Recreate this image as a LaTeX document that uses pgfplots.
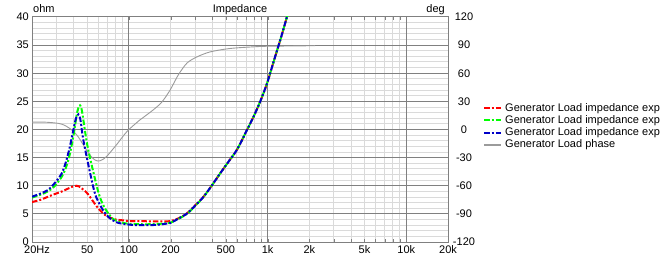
\documentclass[border=0pt]{standalone}
\usepackage{fontspec}
\setmainfont{Liberation Sans}
\usepackage{pgfplots}
\pgfplotsset{compat=1.18}
\definecolor{majgrid}{RGB}{128,128,128}
\definecolor{mingrid}{RGB}{218,218,218}
\definecolor{phasegray}{RGB}{155,155,155}
\definecolor{zred}{RGB}{255,0,0}
\definecolor{zgreen}{RGB}{0,255,0}
\definecolor{zblue}{RGB}{0,0,200}

\pgfplotstableread{
f z
20 7.1
23 7.5
26.1 8.05
29 8.5
32.6 8.95
35 9.3
38 9.7
40 9.93
41.8 10.0
43.5 9.9
45 9.65
48 9.1
50.7 8.5
53.5 7.7
56.7 6.8
60 6.0
65 5.1
70 4.55
79 4.04
90 3.85
100 3.74
120 3.7
150 3.68
180 3.68
200 3.72
227 4.2
262 5.1
300 6.5
345 8.06
400 10.2
455 12.2
525 14.35
601 16.4
700 19.6
793 22.3
885 25.0
991 28.2
1100 31.9
1234 35.9
1310 38.1
1385 40.2
}\redtab

\pgfplotstableread{
f z
20 7.9
23 8.4
26.1 9.0
29 9.9
32.6 11.5
35 13.1
37.4 15.5
40 19.2
42 22.6
43.3 23.9
44.4 24.3
45.4 23.8
46.4 22.5
49.3 18.2
52 15.3
55.2 12.6
59.6 9.25
63 7.4
67 6.0
72 4.9
76 4.2
83 3.65
95 3.3
110 3.2
130 3.15
160 3.2
190 3.35
200 3.45
227 4.1
262 5.0
300 6.4
345 8.0
400 10.2
455 12.2
525 14.35
601 16.4
700 19.6
793 22.3
885 25.0
991 28.2
1100 31.9
1234 35.9
1310 38.1
1385 40.2
}\greentab

\pgfplotstableread{
f z
20 8.06
23 8.6
26.1 9.25
29 10.4
32.6 12.1
35 14.1
37.4 16.8
39.5 19.6
41.3 21.8
42.3 22.5
43.2 22.7
44.1 22.3
45 21.3
46.7 18.4
50.7 14.0
55.2 9.85
58 8.0
61.9 6.6
66 5.4
70.8 4.5
76 3.9
83 3.43
95 3.15
110 3.02
130 3.0
160 3.05
190 3.3
200 3.4
227 4.15
262 5.05
300 6.45
345 8.03
400 10.2
455 12.2
525 14.35
601 16.4
700 19.6
793 22.3
885 25.0
991 28.2
1100 31.9
1234 35.9
1310 38.1
1385 40.2
}\bluetab

\pgfplotstableread{
f deg
20 7.8
25 7.8
30.8 6.6
34 4.8
37.4 1.2
40 -2.4
43.1 -7.8
46 -14.4
49.3 -21.6
53 -28.2
56.7 -32.4
60 -33.6
62 -33.3
66 -31.2
70.8 -27
76 -21.6
83 -14.7
90 -7.8
99 -0.6
116 8.4
120 10.2
150 21
173 29.4
198 42
227 58.2
262 70.8
309 77.4
386 82.8
535 86.4
793 88.2
1000 88.8
1500 89.1
2200 89.4
}\phasetab

\tikzset{zline/.style={line width=2bp, dash pattern=on 5.5bp off 2bp on 2bp off 2bp}}

\begin{document}
\begin{tikzpicture}[font=\fontsize{11bp}{13bp}\selectfont]
% grid and left/bottom axis
\begin{axis}[
  scale only axis, width=416bp, height=225bp,
  at={(0,0)}, anchor=south west,
  xmode=log, xmin=20, xmax=20000,
  ymin=0, ymax=40,
  major tick length=0pt, minor tick length=0pt,
  axis line style={majgrid, line width=1bp},
  xtick={20,50,100,200,500,1000,2000,5000,10000,20000},
  xticklabels={\hspace*{10bp}20Hz,50,100,200,500,1k,2k,5k,10k,20k},
  minor xtick={30,40,60,70,80,90,300,400,600,700,800,900,3000,4000,6000,7000,8000,9000},
  xticklabel style={anchor=base, yshift=-11bp, inner sep=0pt},
  ytick={0,5,...,40},
  yticklabels={0,5,10,15,20,25,30,35,40},
  minor ytick={1,2,3,4,6,7,8,9,11,12,13,14,16,17,18,19,21,22,23,24,26,27,28,29,31,32,33,34,36,37,38,39},
  yticklabel style={anchor=east, inner sep=0pt, xshift=-3bp},
  grid=both,
  x grid style={mingrid, line width=1bp},
  y grid style={mingrid, line width=1bp},
  minor grid style={mingrid, line width=1bp},
]
\end{axis}
% dark major grid
\begin{axis}[
  scale only axis, width=416bp, height=225bp,
  at={(0,0)}, anchor=south west,
  xmode=log, xmin=20, xmax=20000,
  ymin=0, ymax=40,
  major tick length=0pt,
  axis line style={majgrid, line width=1bp},
  xtick={100,1000,10000}, xticklabels={},
  ytick={5,10,...,35}, yticklabels={},
  grid=major,
  major grid style={majgrid, line width=1bp},
]
\end{axis}
% phase axis (right)
\begin{axis}[
  scale only axis, width=416bp, height=225bp,
  at={(0,0)}, anchor=south west,
  xmode=log, xmin=20, xmax=20000,
  ymin=-120, ymax=120,
  major tick length=0pt,
  axis x line=none, axis y line*=right,
  y axis line style={draw=none},
  ytick={-120,-90,...,120},
  yticklabels={-120,-90,-60,-30,0,30,60,90,120},
  yticklabel style={anchor=center, xshift=16bp, inner sep=0pt},
]
\addplot[phasegray, line width=0.9bp, smooth, tension=0.5] table[x=f, y=deg] {\phasetab};
\end{axis}
% impedance curves
\begin{axis}[
  scale only axis, width=416bp, height=225bp,
  at={(0,0)}, anchor=south west,
  xmode=log, xmin=20, xmax=20000,
  ymin=0, ymax=40,
  hide axis,
  legend style={draw=none, fill=none, at={(1.0841,0.62)}, anchor=north west,
    inner sep=0pt, row sep=0.6bp, nodes={inner sep=1bp}},
  legend cell align=left,
  legend image code/.code={\draw[#1] (0bp,0bp) -- (17bp,0bp); \path (19bp,0bp);},
]
\addplot[zred, zline, smooth, tension=0.5] table[x=f, y=z] {\redtab};
\addlegendentry{Generator Load impedance exp}
\addplot[zgreen, zline, smooth, tension=0.5] table[x=f, y=z] {\greentab};
\addlegendentry{Generator Load impedance exp}
\addplot[zblue, zline, smooth, tension=0.5] table[x=f, y=z] {\bluetab};
\addlegendentry{Generator Load impedance exp}
\addlegendimage{phasegray, line width=2bp}
\addlegendentry{Generator Load phase}
\end{axis}
\node[anchor=base west, inner sep=0pt] at (1bp,229bp) {ohm};
\node[anchor=base east, inner sep=0pt] at (413bp,229bp) {deg};
\node[anchor=base, inner sep=0pt] at (208bp,229bp) {Impedance};
\pgfresetboundingbox
\path (-32bp,-15bp) rectangle (631bp,242bp);
\end{tikzpicture}
\end{document}
